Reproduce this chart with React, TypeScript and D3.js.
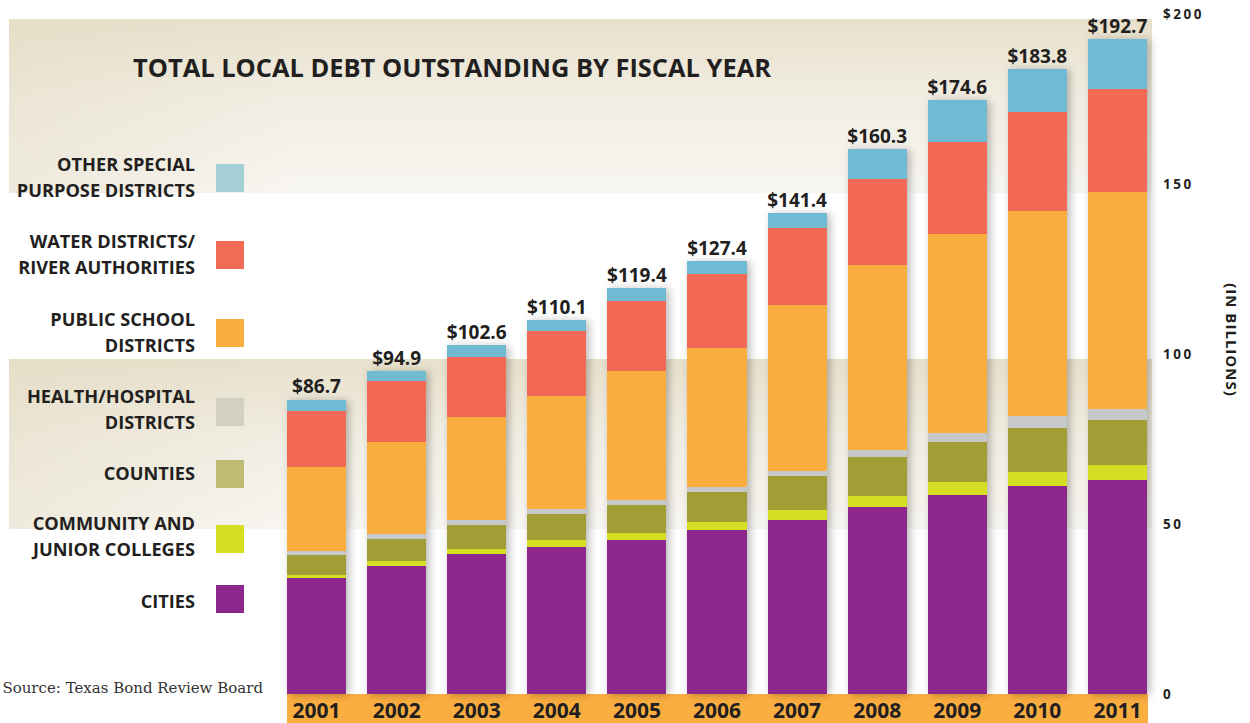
import React from 'react';
import * as d3 from 'd3';

// ---- data ----
const years = ['2001', '2002', '2003', '2004', '2005', '2006', '2007', '2008', '2009', '2010', '2011'];
const totals = [86.7, 94.9, 102.6, 110.1, 119.4, 127.4, 141.4, 160.3, 174.6, 183.8, 192.7];
const cities = [34.1, 37.6, 41.2, 43.2, 45.3, 48.2, 51.2, 55.0, 58.5, 61.2, 62.9];
const colleges = [0.9, 1.5, 1.5, 2.1, 2.1, 2.4, 2.9, 3.2, 3.8, 4.1, 4.4];
const counties = [5.9, 6.5, 7.1, 7.7, 8.2, 8.8, 10.0, 11.5, 11.8, 12.9, 13.2];
const health = [1.2, 1.5, 1.5, 1.3, 1.6, 1.5, 1.5, 2.1, 2.6, 3.5, 3.2];
const schools = [24.7, 26.9, 30.3, 33.4, 37.9, 40.8, 48.8, 54.4, 58.7, 60.4, 64.0];
const water = [16.5, 18.0, 17.6, 19.1, 20.6, 21.8, 22.6, 25.3, 27.1, 29.1, 30.3];
const other = [3.3, 2.9, 3.4, 3.3, 3.7, 3.9, 4.4, 8.8, 12.1, 12.6, 14.7];
const yTicks = [0, 50, 100, 150, 200];
const yTickLabels = ['0', '50', '100', '150', '$200'];

const seriesKeys = ['cities', 'colleges', 'counties', 'health', 'schools', 'water', 'other'];
const seriesValues: Record<string, number[]> = { cities, colleges, counties, health, schools, water, other };

// legend, top to bottom
const legendKeys = ['other', 'water', 'schools', 'health', 'counties', 'colleges', 'cities'];
const legendLines = [
  ['OTHER SPECIAL', 'PURPOSE DISTRICTS'],
  ['WATER DISTRICTS/', 'RIVER AUTHORITIES'],
  ['PUBLIC SCHOOL', 'DISTRICTS'],
  ['HEALTH/HOSPITAL', 'DISTRICTS'],
  ['COUNTIES'],
  ['COMMUNITY AND', 'JUNIOR COLLEGES'],
  ['CITIES'],
];

// ---- styles ----
const barColors: Record<string, string> = {
  cities: '#8D268D',
  colleges: '#D5DE23',
  counties: '#A09E35',
  health: '#C7C8CA',
  schools: '#FBAE40',
  water: '#F26B55',
  other: '#6FBAD4',
};
const swatchColors: Record<string, string> = {
  cities: '#8D268D',
  colleges: '#D7DF23',
  counties: '#BDBB74',
  health: '#D2D0C3',
  schools: '#FBAE40',
  water: '#F26B55',
  other: '#A5CFD6',
};
const legendSwatchTop = [164, 241, 319, 398, 460, 525, 585];
const legendBaselines = [[171, 197], [248, 274], [326, 352], [403, 429], [480], [530, 556], [608]];

const TEXT = '#231F20';
const FONT = "'Open Sans', 'DejaVu Sans', sans-serif";

export default function App() {
  const W = 1250;
  const H = 723;

  const x = d3.scaleBand<string>().domain(years).range([287, 1147]).paddingInner(0.262).paddingOuter(0);
  const y = d3.scaleLinear().domain([0, 200]).range([694, 14]);

  const table = years.map((yr, i) => {
    const row: any = { year: yr };
    seriesKeys.forEach((k) => (row[k] = seriesValues[k][i]));
    return row;
  });
  const stacked = d3.stack<any>().keys(seriesKeys)(table);

  const bw = x.bandwidth();

  return (
    <svg width={W} height={H} style={{ position: 'absolute', left: 0, top: 0, background: '#fff' }}>
      <defs>
        <linearGradient id="band" x1="0" y1="0" x2="0" y2="1">
          <stop offset="0" stopColor="#E7E0CB" />
          <stop offset="0.45" stopColor="#F1EDE2" />
          <stop offset="1" stopColor="#F8F6F1" />
        </linearGradient>
        <linearGradient id="bandH" x1="0" y1="0" x2="1" y2="0">
          <stop offset="0" stopColor="#E3DBC3" stopOpacity="0.45" />
          <stop offset="0.25" stopColor="#E3DBC3" stopOpacity="0" />
          <stop offset="1" stopColor="#E3DBC3" stopOpacity="0" />
        </linearGradient>
        <filter id="shadow" x="-30%" y="-5%" width="160%" height="110%">
          <feDropShadow dx="3" dy="1" stdDeviation="4" floodColor="#000" floodOpacity="0.28" />
        </filter>
      </defs>

      {/* background bands */}
      <rect x={9} y={19} width={1143} height={174} fill="url(#band)" />
      <rect x={9} y={19} width={1143} height={174} fill="url(#bandH)" />
      <rect x={9} y={359} width={1143} height={170} fill="url(#band)" />
      <rect x={9} y={359} width={1143} height={170} fill="url(#bandH)" />

      {/* title */}
      <text x={133} y={77} fontFamily={FONT} fontWeight={700} fontSize={25} fill={TEXT} textLength={638} lengthAdjust="spacingAndGlyphs">
        TOTAL LOCAL DEBT OUTSTANDING BY FISCAL YEAR
      </text>

      {/* legend */}
      {legendKeys.map((k, i) => (
        <g key={k}>
          {legendLines[i].map((line, j) => (
            <text key={j} x={195} y={legendBaselines[i][j]} textAnchor="end" fontFamily={FONT} fontWeight={700} fontSize={18.2} fill={TEXT}>
              {line}
            </text>
          ))}
          <rect x={216} y={legendSwatchTop[i]} width={28} height={28} fill={swatchColors[k]} />
        </g>
      ))}

      {/* source */}
      <text x={263} y={693} textAnchor="end" fontFamily="'DejaVu Serif', serif" fontSize={15} fill="#333">
        Source: Texas Bond Review Board
      </text>

      {/* year strip */}
      <rect x={287} y={694} width={861} height={29} fill="#FBAE40" />

      {/* bars */}
      {years.map((yr, i) => (
        <g key={yr} filter="url(#shadow)">
          {stacked.map((s) => (
            <rect
              key={s.key}
              x={x(yr)}
              y={y(s[i][1])}
              width={bw}
              height={y(s[i][0]) - y(s[i][1])}
              fill={barColors[s.key]}
              shapeRendering="crispEdges"
            />
          ))}
        </g>
      ))}

      {/* value labels */}
      {years.map((yr, i) => (
        <text key={yr} x={(x(yr) as number) + bw / 2} y={y(totals[i]) - 6} textAnchor="middle" fontFamily={FONT} fontWeight={700} fontSize={19} fill={TEXT}>
          {'$' + totals[i].toFixed(1)}
        </text>
      ))}

      {/* year labels */}
      {years.map((yr) => (
        <text key={yr} x={(x(yr) as number) + bw / 2} y={717.5} textAnchor="middle" fontFamily={FONT} fontWeight={700} fontSize={21} fill={TEXT}>
          {yr}
        </text>
      ))}

      {/* right axis */}
      {yTicks.map((t, i) => (
        <text key={t} x={1163} y={y(t)} dy="0.36em" fontFamily={FONT} fontWeight={700} fontSize={13.5} letterSpacing={2.5} fill={TEXT}>
          {yTickLabels[i]}
        </text>
      ))}
      <text transform="translate(1226,340) rotate(90)" textAnchor="middle" fontFamily={FONT} fontWeight={700} fontSize={15} letterSpacing={1} fill={TEXT}>
        (IN BILLIONS)
      </text>
    </svg>
  );
}
